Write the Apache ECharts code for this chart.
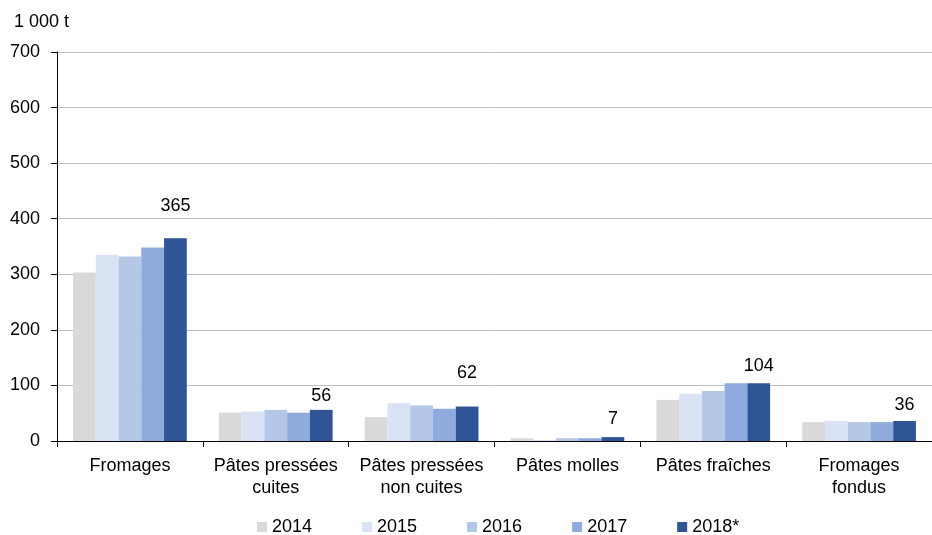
<!DOCTYPE html>
<html><head><meta charset="utf-8">
<script src="https://cdn.jsdelivr.net/npm/echarts@6/dist/echarts.min.js"></script>
<style>html,body{margin:0;padding:0;background:#fff}#c{width:932px;height:535px}</style>
</head><body><div id="c"></div>
<script>
const categories = ['Fromages', 'Pâtes pressées\ncuites', 'Pâtes pressées\nnon cuites', 'Pâtes molles', 'Pâtes fraîches', 'Fromages\nfondus'];
const seriesNames = ['2014', '2015', '2016', '2017', '2018*'];
const v2014 = [303, 51, 43, 5, 74, 34];
const v2015 = [335, 53, 68, 2, 85, 36];
const v2016 = [332, 56, 64, 5, 90, 34];
const v2017 = [348, 51, 58, 5, 104, 34];
const v2018 = [365, 56, 62, 7, 104, 36];
const colors = ['#d9d9d9', '#dae3f3', '#b4c7e7', '#8faadc', '#2f5597'];
const allValues = [v2014, v2015, v2016, v2017, v2018];
const font = 'Liberation Sans, Arial, sans-serif';
// label gaps above the 2018* bars, as placed in the reference
const labelGap = [23, 5, 25, 9, 8, 7];

const chart = echarts.init(document.getElementById('c'));
chart.setOption({
  animation: false,
  textStyle: {fontFamily: font},
  grid: {left: 57, right: -3, top: 52, bottom: 94, containLabel: false},
  legend: {
    bottom: -6, left: 252, itemWidth: 10, itemHeight: 10, itemGap: 50,
    icon: 'rect',
    textStyle: {fontSize: 18, color: '#000', fontFamily: font},
    data: seriesNames
  },
  graphic: [{type: 'text', left: 14, top: 13, style: {text: '1 000 t', fontSize: 18, fill: '#000', fontFamily: font}}],
  xAxis: {
    type: 'category', data: categories,
    axisLine: {lineStyle: {color: '#000', width: 1}},
    axisTick: {show: true, length: 6, lineStyle: {color: '#000'}},
    axisLabel: {color: '#000', fontSize: 18, lineHeight: 22, margin: 14, fontFamily: font, interval: 0}
  },
  yAxis: {
    type: 'value', min: 0, max: 700, interval: 100,
    axisLine: {show: true, lineStyle: {color: '#000'}},
    axisTick: {show: true, length: 6, lineStyle: {color: '#000'}},
    axisLabel: {color: '#000', fontSize: 18, margin: 17, fontFamily: font},
    splitLine: {lineStyle: {color: '#bfbfbf'}}
  },
  series: seriesNames.map((n, i) => ({
    name: n, type: 'bar',
    data: i === 4 ? allValues[i].map((v, j) => ({value: v, label: {distance: labelGap[j]}})) : allValues[i],
    itemStyle: {color: colors[i]},
    barGap: '0%', barCategoryGap: '22%',
    label: i === 4 ? {show: true, position: 'top', color: '#000', fontSize: 18, fontFamily: font} : {show: false}
  }))
});
</script></body></html>
